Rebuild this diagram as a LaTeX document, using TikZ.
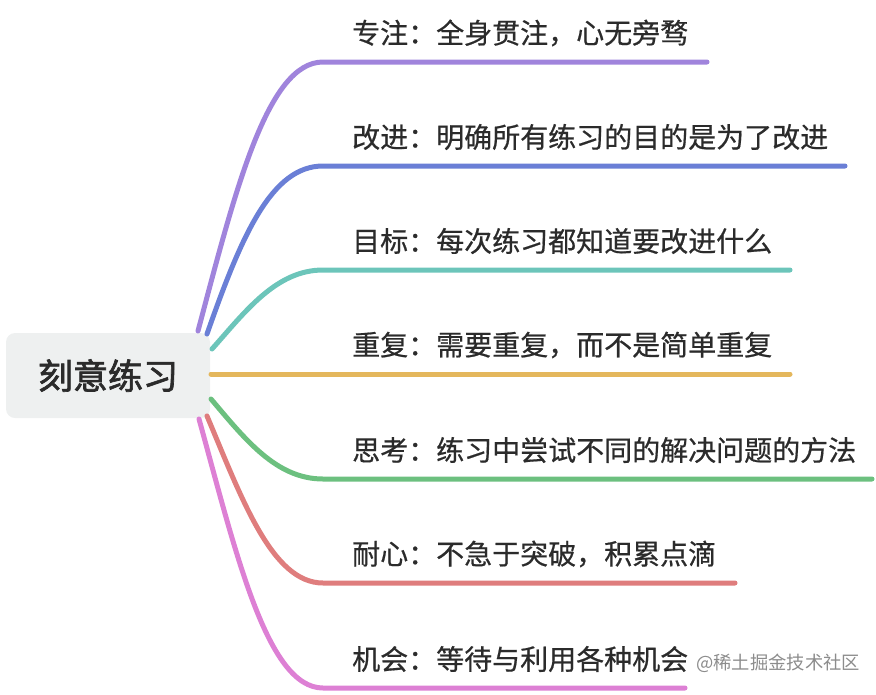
\documentclass[tikz,border=0pt]{standalone}
\usepackage{fontspec}
\newfontfamily\cjk{Noto Sans CJK SC}[AutoFakeBold=2]
\newfontfamily\cjkm{Noto Sans CJK SC}[FakeBold=0.6]
\usetikzlibrary{calc}
\definecolor{cpurple}{HTML}{A084DC}
\definecolor{cblue}{HTML}{6A7FD6}
\definecolor{cteal}{HTML}{6CC5BA}
\definecolor{cyellow}{HTML}{E4B75C}
\definecolor{cgreen}{HTML}{6CC07F}
\definecolor{cred}{HTML}{DF7D7D}
\definecolor{cpink}{HTML}{DD80D4}
\definecolor{rootfill}{HTML}{EEF0F0}
\definecolor{txt}{HTML}{2B2B2B}
\tikzset{
  rootbox/.style={fill=rootfill, rounded corners=9pt, minimum width=204pt, minimum height=85pt, inner sep=0pt, font=\cjk\bfseries\fontsize{35}{40}\selectfont, text=txt},
  leaf/.style={anchor=west, inner sep=0pt, font=\cjkm\fontsize{28}{32}\selectfont, text=txt},
  branch/.style={line width=5pt, line cap=round},
  wm/.style={anchor=west, inner sep=0pt, font=\cjk\fontsize{18.3}{22}\selectfont, text=black!45}
}
\begin{document}
\begin{tikzpicture}[x=1pt,y=-1pt]
\useasboundingbox (0,0) rectangle (876,694);
\node[rootbox] (root) at (108,375.5) {刻意练习};
% leaf labels
\node[leaf] (b1) at (352,33) {专注：全身贯注，心无旁骛};
\node[leaf] (b2) at (352,137) {改进：明确所有练习的目的是为了改进};
\node[leaf] (b3) at (352,241) {目标：每次练习都知道要改进什么};
\node[leaf] (b4) at (352,345) {重复：需要重复，而不是简单重复};
\node[leaf] (b5) at (352,450) {思考：练习中尝试不同的解决问题的方法};
\node[leaf] (b6) at (352,554) {耐心：不急于突破，积累点滴};
\node[leaf] (b7) at (352,659) {机会：等待与利用各种机会};
\node[wm] (wm) at (696,663) {@稀土掘金技术社区};
% start points on root
\coordinate (s1) at (198,331);
\coordinate (s2) at (207,334);
\coordinate (s3) at (212,349);
\coordinate (s4) at (211,374);
\coordinate (s5) at (211,399);
\coordinate (s6) at (207,416);
\coordinate (s7) at (199,419);
% bend points and ends
\foreach \i/\y/\xe in {1/62/707,2/166/845,3/270/790,4/374/790,5/479/872,6/583/735,7/688/685}{
  \coordinate (k\i) at (323,\y);
  \coordinate (e\i) at (\xe,\y);
}
\draw[branch, cpurple] (s1) .. controls (235,192) and (267,62) .. (k1) -- (e1);
\draw[branch, cblue]   (s2) .. controls (242,234) and (272,166) .. (k2) -- (e2);
\draw[branch, cteal]   (s3) .. controls (245,312) and (276,270) .. (k3) -- (e3);
\draw[branch, cyellow] (s4) -- (k4) -- (e4);
\draw[branch, cgreen]  (s5) .. controls (245,439) and (276,479) .. (k5) -- (e5);
\draw[branch, cred]    (s6) .. controls (242,499) and (272,583) .. (k6) -- (e6);
\draw[branch, cpink]   (s7) .. controls (236,553) and (267,688) .. (k7) -- (e7);
\end{tikzpicture}
\end{document}
